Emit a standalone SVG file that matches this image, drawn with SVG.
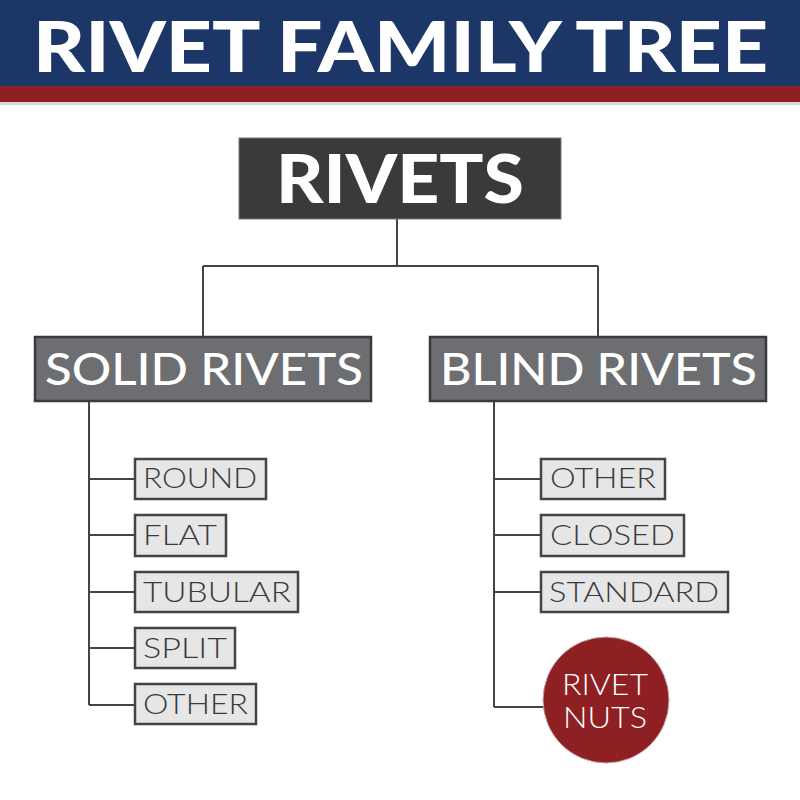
<svg xmlns="http://www.w3.org/2000/svg" width="800" height="800" viewBox="0 0 800 800">
<style>
.title{font-family:Lato,"Liberation Sans",sans-serif;font-weight:900;fill:#fff}
.lvl2{fill:#6d6e71;stroke:#3a3a3c;stroke-width:2.5}
.lvl2t{font-family:Lato,"Liberation Sans",sans-serif;font-size:45px;font-weight:500;fill:#fff}
.leaf{fill:#e6e6e6;stroke:#444;stroke-width:2.5}
.leaft{font-family:Lato,"Liberation Sans",sans-serif;font-size:28px;font-weight:300;fill:#3a3a3c}
.nut{font-family:Lato,"Liberation Sans",sans-serif;font-size:30px;font-weight:300;fill:#fff}
.conn{fill:none;stroke:#444;stroke-width:2}
</style>
<rect x="0" y="0" width="800" height="800" fill="#fff"/>
<g id="header">
<rect x="0" y="0" width="800" height="86" fill="#1c3668"/>
<rect x="0" y="86" width="800" height="16" fill="#8e2024"/>
<rect x="0" y="102" width="800" height="3" fill="#d8d8d8"/>
<text class="title" x="33" y="72" font-size="70" textLength="735" lengthAdjust="spacingAndGlyphs">RIVET FAMILY TREE</text>
</g>
<g id="connectors">
<path class="conn" d="M397 219 V266 M203 266 H598 M203 266 V338 M598 266 V338"/>
<path class="conn" d="M89 401 V705 M89 479 H135 M89 535 H135 M89 592 H135 M89 648 H135 M89 705 H135"/>
<path class="conn" d="M494 401 V707 M494 479 H541 M494 535 H541 M494 592 H541 M494 707 H544"/>
</g>
<g id="rivets">
<rect x="239" y="138" width="322" height="81" fill="#3a3a3c" stroke="#777" stroke-width="1"/>
<text class="title" x="400" y="203" font-size="67" text-anchor="middle" textLength="248" lengthAdjust="spacingAndGlyphs">RIVETS</text>
</g>
<g id="solid-rivets">
<rect class="lvl2" x="35" y="337" width="336" height="64"/>
<text class="lvl2t" x="45" y="385" textLength="318" lengthAdjust="spacingAndGlyphs">SOLID RIVETS</text>
</g>
<g id="blind-rivets">
<rect class="lvl2" x="430" y="337" width="336" height="64"/>
<text class="lvl2t" x="440" y="385" textLength="317" lengthAdjust="spacingAndGlyphs">BLIND RIVETS</text>
</g>
<g id="round">
<rect class="leaf" x="135" y="459" width="131" height="40"/>
<text class="leaft" x="143" y="488" textLength="114" lengthAdjust="spacingAndGlyphs">ROUND</text>
</g>
<g id="flat">
<rect class="leaf" x="135" y="515" width="91" height="41"/>
<text class="leaft" x="143" y="545" textLength="74" lengthAdjust="spacingAndGlyphs">FLAT</text>
</g>
<g id="tubular">
<rect class="leaf" x="135" y="572" width="163" height="40"/>
<text class="leaft" x="143" y="602" textLength="148" lengthAdjust="spacingAndGlyphs">TUBULAR</text>
</g>
<g id="split">
<rect class="leaf" x="135" y="628" width="100" height="40"/>
<text class="leaft" x="143" y="658" textLength="84" lengthAdjust="spacingAndGlyphs">SPLIT</text>
</g>
<g id="other-solid">
<rect class="leaf" x="135" y="684" width="121" height="40"/>
<text class="leaft" x="143" y="714" textLength="105" lengthAdjust="spacingAndGlyphs">OTHER</text>
</g>
<g id="other-blind">
<rect class="leaf" x="541" y="459" width="124" height="40"/>
<text class="leaft" x="550" y="488" textLength="106" lengthAdjust="spacingAndGlyphs">OTHER</text>
</g>
<g id="closed">
<rect class="leaf" x="541" y="515" width="143" height="41"/>
<text class="leaft" x="550" y="545" textLength="125" lengthAdjust="spacingAndGlyphs">CLOSED</text>
</g>
<g id="standard">
<rect class="leaf" x="541" y="572" width="187" height="40"/>
<text class="leaft" x="549" y="602" textLength="170" lengthAdjust="spacingAndGlyphs">STANDARD</text>
</g>
<g id="rivet-nuts">
<circle cx="606" cy="700" r="63" fill="#8e2024" stroke="#c9a3a3" stroke-width="1"/>
<text class="nut" x="605" y="695" text-anchor="middle" textLength="86" lengthAdjust="spacingAndGlyphs">RIVET</text>
<text class="nut" x="605" y="728" text-anchor="middle" textLength="84" lengthAdjust="spacingAndGlyphs">NUTS</text>
</g>
</svg>
